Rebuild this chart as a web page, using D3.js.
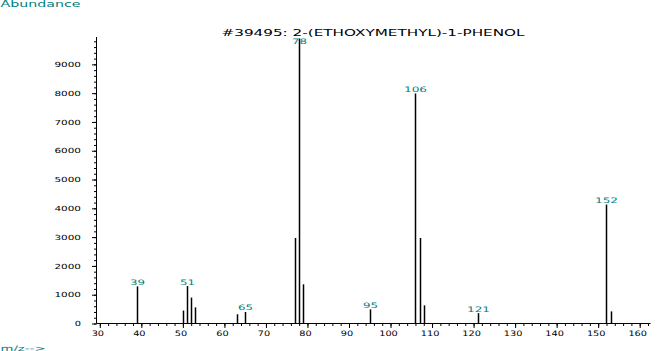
<!DOCTYPE html>
<html><head><meta charset="utf-8">
<script src="https://cdn.jsdelivr.net/npm/d3@7"></script>
<style>
html,body{margin:0;padding:0;background:#fff;}
svg{display:block;}
text{font-family:"DejaVu Sans",sans-serif;}
</style></head>
<body>
<svg id="c" width="666" height="351"></svg>
<script>
// m/z values and abundances
const mz        = [39, 50, 51, 52, 53, 63, 65, 77, 78, 79, 95, 106, 107, 108, 121, 152, 153];
const abundance = [1290, 450, 1300, 900, 560, 320, 400, 2970, 9900, 1360, 490, 7990, 2970, 630, 360, 4130, 420];
// labelled peaks
const labelledMz = [39, 51, 65, 78, 95, 106, 121, 152];
const yTicks = [0,1000,2000,3000,4000,5000,6000,7000,8000,9000];
const xTicks = [30,40,50,60,70,80,90,100,110,120,130,140,150,160];
const title = "#39495: 2-(ETHOXYMETHYL)-1-PHENOL";

const teal = "#008080";
const svg = d3.select("#c");

const x = d3.scaleLinear().domain([29.2, 162.6]).range([96.5, 650.5]);
const y = d3.scaleLinear().domain([0, 9950]).range([323.5, 37]);

// minor ticks
const yMinor = d3.range(0, 9950, 200);
const xMinor = d3.range(30, 163, 2);

// Y axis
const gy = svg.append("g").attr("transform","translate(96.5,0)");
gy.call(d3.axisLeft(y).tickValues(yMinor).tickSize(2.5).tickFormat("").tickSizeOuter(0));
gy.call(g=>g.select(".domain").remove());
const gy2 = svg.append("g").attr("transform","translate(96.5,0)");
gy2.call(d3.axisLeft(y).tickValues(yTicks).tickSize(4.5).tickPadding(11).tickSizeOuter(0).tickFormat(d3.format("d")));
gy2.select(".domain").attr("d","M0,37V323.5");
gy2.selectAll("text").attr("font-size",7).attr("fill","#000").attr("dy","0.32em")
  .each(function(d){ const s=String(d); d3.select(this).attr("textLength", s.length*6.75-0.5).attr("lengthAdjust","spacingAndGlyphs"); });

// X axis
const gx = svg.append("g").attr("transform","translate(0,323.5)");
gx.call(d3.axisBottom(x).tickValues(xMinor).tickSize(2.5).tickFormat("").tickSizeOuter(0));
gx.call(g=>g.select(".domain").remove());
const gx2 = svg.append("g").attr("transform","translate(0,323.5)");
gx2.call(d3.axisBottom(x).tickValues(xTicks).tickSize(4.5).tickPadding(3).tickSizeOuter(0).tickFormat(d3.format("d")));
gx2.select(".domain").attr("d","M96.5,0H650.5");
gx2.selectAll("text").attr("font-size",7.5).attr("fill","#000").attr("dx","-2.5")
  .each(function(d){ const s=String(d); d3.select(this).attr("textLength", s.length*6.2).attr("lengthAdjust","spacingAndGlyphs"); });

svg.selectAll(".tick line").attr("stroke","#000");
svg.selectAll(".domain").attr("stroke","#000");

// bars
const data = mz.map((m,i)=>({m, v:abundance[i]}));
svg.append("g").selectAll("line").data(data).join("line")
  .attr("x1", d=>Math.round(x(d.m))+0.5).attr("x2", d=>Math.round(x(d.m))+0.5)
  .attr("y1", y(0)).attr("y2", d=>y(d.v))
  .attr("stroke","#000").attr("stroke-width",1.5);

// peak labels
svg.append("g").selectAll("text").data(data.filter(d=>labelledMz.includes(d.m))).join("text")
  .attr("x", d=>Math.round(x(d.m))+0.5)
  .attr("y", d=>Math.max(y(d.v)-1.5, 44))
  .attr("text-anchor","middle").attr("font-size",7.5).attr("fill",teal)
  .attr("textLength", d=>String(d.m).length*8-1).attr("lengthAdjust","spacingAndGlyphs")
  .text(d=>d.m);

// title and axis captions
svg.append("text").attr("x",221.5).attr("y",36).attr("font-size",8.3).attr("fill","#000")
  .attr("textLength",303).attr("lengthAdjust","spacingAndGlyphs").text(title);
svg.append("text").attr("x",0.5).attr("y",7).attr("font-size",8).attr("fill",teal)
  .attr("textLength",80).attr("lengthAdjust","spacingAndGlyphs").text("Abundance");
svg.append("text").attr("x",0.5).attr("y",350.5).attr("font-size",7.5).attr("fill",teal)
  .attr("textLength",45).attr("lengthAdjust","spacingAndGlyphs").text("m/z-->");
</script>
</body></html>
